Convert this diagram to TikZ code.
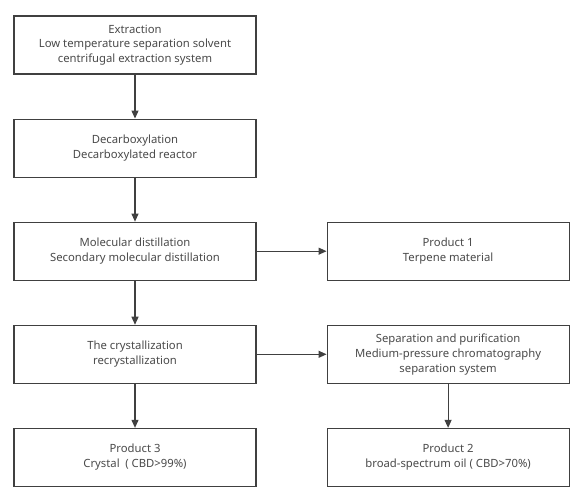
\documentclass[tikz,border=0pt]{standalone}
\usepackage{fontspec}
\setmainfont{Noto Sans}
\usepackage{xcolor}
\usepackage{tikz}
\usetikzlibrary{positioning,arrows.meta}
\definecolor{flowLine}{HTML}{404040}
\definecolor{flowText}{HTML}{4A4A4A}
\tikzset{
  stage/.style={draw=flowLine, line width=1.1pt, fill=white, minimum width=242pt, minimum height=58pt, align=center, text=flowText, inner sep=2pt, font=\fontsize{11.3}{14.8}\selectfont},
  flow/.style={-{Triangle[length=8pt, width=7pt]}, draw=flowLine, line width=1.1pt}
}

\begin{document}
\begin{tikzpicture}[node distance=44pt and 70pt]
  \useasboundingbox (0pt,0pt) rectangle (582pt,-500pt);
  \node[stage] (extract) at (135pt,-45pt) {
    Extraction\\
    Low temperature separation solvent\\
    centrifugal extraction system
  };
  \node[stage, below=of extract] (decarb) {
    Decarboxylation\\
    Decarboxylated reactor
  };
  \node[stage, below=of decarb] (distill) {
    Molecular distillation\\
    Secondary molecular distillation
  };
  \node[stage, right=of distill] (prodA) {
    Product 1\\
    Terpene material
  };
  \node[stage, below=of distill] (crystal) {
    The crystallization\\
    recrystallization
  };
  \node[stage, right=of crystal] (purify) {
    Separation and purification\\
    Medium-pressure chromatography\\
    separation system
  };
  \node[stage, below=of crystal] (prodC) {
    Product 3\\
    Crystal\enspace( CBD>99\%)
  };
  \node[stage, below=of purify] (prodB) {
    Product 2\\
    broad-spectrum oil ( CBD>70\%)
  };
  \draw[flow] (extract) -- (decarb);
  \draw[flow] (decarb) -- (distill);
  \draw[flow] (distill) -- (prodA);
  \draw[flow] (distill) -- (crystal);
  \draw[flow] (crystal) -- (purify);
  \draw[flow] (crystal) -- (prodC);
  \draw[flow] (purify) -- (prodB);
\end{tikzpicture}
\end{document}
